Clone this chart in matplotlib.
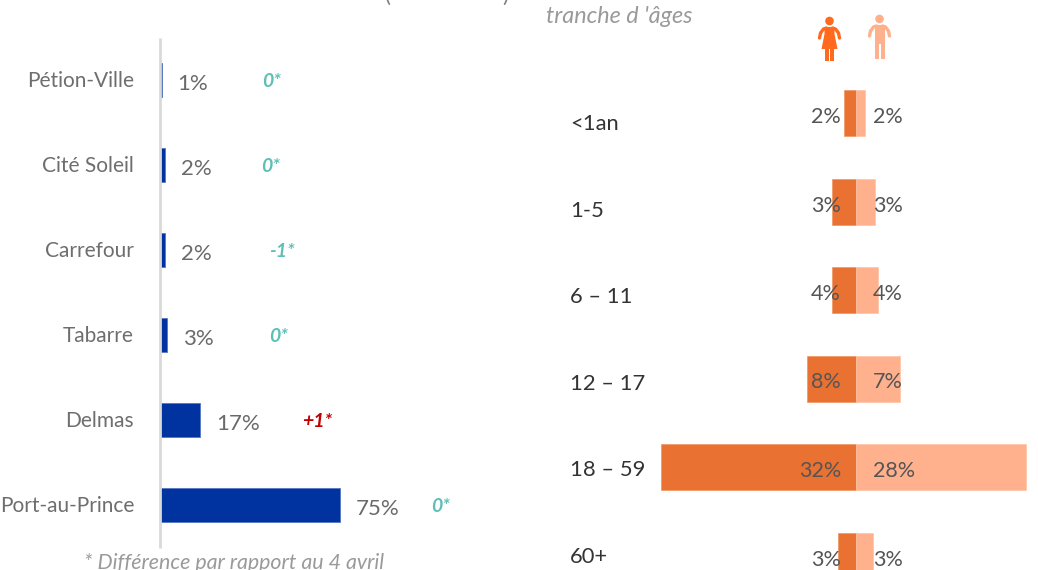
import matplotlib as mpl
mpl.use('Agg')
import matplotlib.pyplot as plt
from matplotlib.patches import Circle, Polygon, Rectangle

W, H = 1038, 570

communes = ['Pétion-Ville', 'Cité Soleil', 'Carrefour', 'Tabarre', 'Delmas', 'Port-au-Prince']
commune_vals = [0.7, 2, 2, 3, 16.7, 75]
commune_labels = ['1%', '2%', '2%', '3%', '17%', '75%']
diffs = ['0*', '0*', '-1*', '0*', '+1*', '0*']
diff_colors = ['#5fbfb5', '#5fbfb5', '#5fbfb5', '#5fbfb5', '#c00000', '#5fbfb5']
diff_x = [272, 271, 282, 279, 317, 441]

ages = ['<1an', '1-5', '6 – 11', '12 – 17', '18 – 59', '60+']
women = [2, 4, 4, 8, 32, 3]
men = [1.5, 3.1, 3.6, 7.2, 27.8, 2.8]
women_labels = ['2%', '3%', '4%', '8%', '32%', '3%']
men_labels = ['2%', '3%', '4%', '7%', '28%', '3%']

plt.rcParams['font.family'] = ['Lato', 'DejaVu Sans']

fig = plt.figure(figsize=(W / 100, H / 100), dpi=100)

# left chart: 2.4 px per percent, rows 85 px apart
ax1 = fig.add_axes([0, 0, 540 / W, 1])
ax1.set_xlim(-160 / 2.4, (540 - 160) / 2.4)
ax1.set_ylim((570 - 80) / 85, -80 / 85)
ax1.axis('off')
rows = range(len(communes))
ax1.barh(rows, commune_vals, height=34 / 85, color='#0033a0', edgecolor='#5577c4', linewidth=0.6)
ax1.plot([0, 0], [-42 / 85, 5.5], color='#d9d9d9', lw=2, solid_capstyle='butt')
for i in rows:
    ax1.annotate(communes[i], (0, i), xytext=(-26, -1), textcoords='offset pixels',
                 ha='right', va='center', fontsize=15, color='#6e6e6e')
    ax1.annotate(commune_labels[i], (commune_vals[i], i), xytext=(16, -4), textcoords='offset pixels',
                 ha='left', va='center', fontsize=16, color='#6a6a6a')
    ax1.annotate(diffs[i], ((diff_x[i] - 160) / 2.4, i), xytext=(0, -1), textcoords='offset pixels',
                 ha='center', va='center', fontsize=14, style='italic', weight='bold', color=diff_colors[i])
ax1.text(30.8, 5.68, '* Différence par rapport au 4 avril', ha='center', va='center',
         fontsize=15.4, style='italic', color='#9a9a9a')

# right chart: 6.1 px per percent, rows 88.5 px apart
ax2 = fig.add_axes([540 / W, 0, 498 / W, 1])
ax2.set_xlim((540 - 856) / 6.1, (1038 - 856) / 6.1)
ax2.set_ylim((570 - 113) / 88.5, -113 / 88.5)
ax2.axis('off')
rows2 = range(len(ages))
bar_h = 46 / 88.5
ax2.barh(rows2, [-v for v in women], height=bar_h, color='#e97132', edgecolor='#f0955f', linewidth=0.5)
ax2.barh(rows2, men, height=bar_h, color='#ffb08c', edgecolor='#ffc4a8', linewidth=0.5)
for i in rows2:
    # age labels sit on their own, tighter spacing than the bars
    ax2.text((570 - 856) / 6.1, (124 + 86.6 * i - 113) / 88.5, ages[i], ha='left', va='center',
             fontsize=15.8, color='#333333')
    ax2.annotate(women_labels[i], (0, i), xytext=(-15, -4), textcoords='offset pixels',
                 ha='right', va='center', fontsize=15.5, color='#555555')
    ax2.annotate(men_labels[i], (0, i), xytext=(17, -4), textcoords='offset pixels',
                 ha='left', va='center', fontsize=15.5, color='#555555')
ax2.text((546 - 856) / 6.1, -1.085, "tranche d 'âges", ha='left', va='center', fontsize=16.8,
         style='italic', color='#9a9a9a')

# clipped title remains at the top edge
fig.text(388 / W, 1 + 4 / H, '(', ha='center', va='center', fontsize=16, color='#7f7f7f')
fig.text(505 / W, 1 + 4 / H, ')', ha='center', va='center', fontsize=16, color='#7f7f7f')

# pictograms, drawn in pixel coordinates
ov = fig.add_axes([0, 0, 1, 1])
ov.set_xlim(0, W)
ov.set_ylim(H, 0)
ov.axis('off')
ov.patch.set_alpha(0)

def arms(ax, x, y, c):
    for s in (-1, 1):
        ax.plot([x + s * 3, x + s * 6, x + s * 9, x + s * 10], [y, y + 1, y + 5, y + 10],
                color=c, lw=2.4, solid_capstyle='round', solid_joinstyle='round')

def woman(ax, x, c):
    ax.add_patch(Circle((x, 21), 3.6, color=c))
    arms(ax, x, 28, c)
    ax.add_patch(Polygon([(x - 5, 27), (x + 5, 27), (x + 5, 34), (x + 8, 49), (x - 8, 49), (x - 5, 34)], color=c, lw=0))
    ax.add_patch(Rectangle((x - 4.5, 48), 3.6, 13, color=c, lw=0))
    ax.add_patch(Rectangle((x + 0.9, 48), 3.6, 13, color=c, lw=0))

def man(ax, x, c):
    ax.add_patch(Circle((x, 19), 3.6, color=c))
    arms(ax, x, 26, c)
    ax.add_patch(Polygon([(x - 5, 25), (x + 5, 25), (x + 5, 59), (x + 1, 59), (x + 1, 44),
                          (x - 1, 44), (x - 1, 59), (x - 5, 59)], color=c, lw=0))

woman(ov, 829.5, '#ff6a1f')
man(ov, 879.5, '#ffb08c')

fig.savefig('out.png', dpi=100)
